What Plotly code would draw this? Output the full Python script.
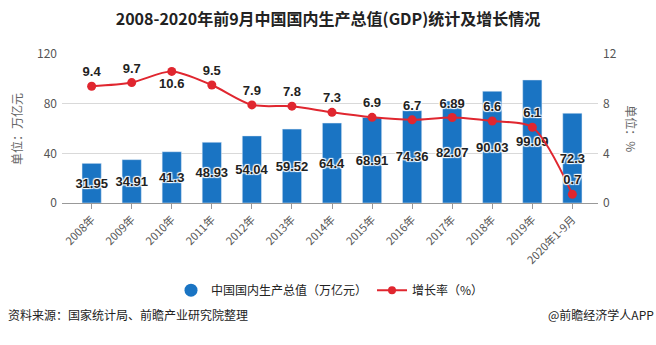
import plotly.graph_objects as go

categories = ["2008年", "2009年", "2010年", "2011年", "2012年", "2013年", "2014年",
              "2015年", "2016年", "2017年", "2018年", "2019年", "2020年1-9月"]
gdp = [31.95, 34.91, 41.3, 48.93, 54.04, 59.52, 64.4, 68.91, 74.36, 82.07, 90.03, 99.09, 72.3]
growth = [9.4, 9.7, 10.6, 9.5, 7.9, 7.8, 7.3, 6.9, 6.7, 6.89, 6.6, 6.1, 0.7]
growth_label_pos = ["top center", "top center", "bottom center", "top center", "top center",
                    "top center", "top center", "top center", "top center", "top center",
                    "top center", "top center", "top center"]

BLUE = "#1a74c3"
RED = "#e0262f"
CJK = "Noto Sans CJK SC"
shadow = "1px 1px 1px white, -1px -1px 1px white, 1px -1px 1px white, -1px 1px 1px white"

x = list(range(len(categories)))

fig = go.Figure()
fig.add_trace(go.Bar(
    x=x, y=gdp, marker_color=BLUE, width=0.48,
    text=[f"{v:g}" for v in gdp], textposition="inside", insidetextanchor="middle",
    textangle=0, constraintext="none",
    textfont=dict(family="Liberation Sans", size=13, color="#222", weight="bold", shadow=shadow),
    showlegend=False, cliponaxis=False,
))
fig.add_trace(go.Scatter(
    x=x, y=growth, yaxis="y2", mode="lines+markers+text",
    line=dict(color=RED, width=2, shape="spline", smoothing=0.8),
    marker=dict(color=RED, size=9),
    text=[f"{v:g}" for v in growth], textposition=growth_label_pos,
    textfont=dict(family="Liberation Sans", size=13, color="#222", weight="bold", shadow=shadow),
    showlegend=False, cliponaxis=False,
))
# legend entries
fig.add_trace(go.Scatter(x=[None], y=[None], mode="markers", name="中国国内生产总值（万亿元）",
                         marker=dict(color=BLUE, size=13, symbol="circle")))
fig.add_trace(go.Scatter(x=[None], y=[None], mode="lines+markers", name="增长率（%）",
                         line=dict(color=RED, width=2), marker=dict(color=RED, size=8)))

fig.update_layout(
    width=656, height=345,
    margin=dict(l=62, r=58, t=54, b=142),
    paper_bgcolor="white", plot_bgcolor="white",
    font=dict(family=CJK, size=12, color="#555"),
    title=dict(text="<b>2008-2020年前9月中国国内生产总值(GDP)统计及增长情况</b>",
               x=0.5, xanchor="center", y=0.945, yanchor="middle",
               font=dict(family="Liberation Sans Narrow, " + CJK, size=16, color="#222")),
    xaxis=dict(range=[-0.74, 12.64], tickmode="array", tickvals=x, ticktext=categories,
               tickangle=-45, tickfont=dict(size=11, color="#555", family="Liberation Sans Narrow, " + CJK),
               showgrid=False, showline=True, linecolor="#999", ticks="outside",
               ticklen=5, tickcolor="#999", zeroline=False),
    yaxis=dict(range=[0, 120], tickvals=[0, 40, 80, 120], showgrid=True, gridcolor="#d9d9d9",
               zeroline=False, tickfont=dict(size=12, color="#555"), ticklabelstandoff=4),
    yaxis2=dict(range=[0, 12], tickvals=[0, 4, 8, 12], overlaying="y", side="right",
                showgrid=False, zeroline=False, tickfont=dict(size=12, color="#555"),
                ticklabelstandoff=4),
    legend=dict(orientation="h", x=0.5, xanchor="center", y=-0.585, yanchor="middle",
                font=dict(size=12, color="#222", family=CJK), itemwidth=30,
                traceorder="normal"),
    bargap=0.5,
)
fig.add_annotation(text="单位：万亿元", xref="paper", yref="paper", x=-0.085, y=0.5,
                   textangle=-90, showarrow=False, font=dict(size=12, color="#666", family=CJK),
                   xanchor="center", yanchor="middle")
fig.add_annotation(text="单位：%", xref="paper", yref="paper", x=1.062, y=0.5,
                   textangle=90, showarrow=False, font=dict(size=12, color="#666", family=CJK),
                   xanchor="center", yanchor="middle")
fig.add_annotation(text="资料来源：国家统计局、前瞻产业研究院整理", xref="paper", yref="paper",
                   x=-0.105, y=-0.75, xanchor="left", yanchor="middle", showarrow=False,
                   font=dict(size=12, color="#222", family=CJK))
fig.add_annotation(text="@前瞻经济学人APP", xref="paper", yref="paper",
                   x=1.108, y=-0.75, xanchor="right", yanchor="middle", showarrow=False,
                   font=dict(size=12, color="#222", family=CJK))

fig.write_html("out.html")
